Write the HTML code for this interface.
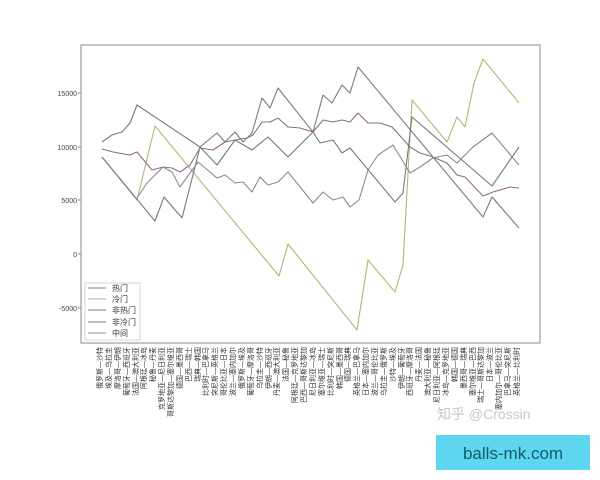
<!DOCTYPE html>
<html><head><meta charset="utf-8"><style>
body{margin:0;width:600px;height:480px;background:#fff;overflow:hidden;position:relative;font-family:"Liberation Sans","Noto Sans CJK SC",sans-serif;}
.xl{position:absolute;top:347px;font-size:7px;line-height:7px;writing-mode:vertical-rl;text-orientation:sideways;transform:rotate(180deg);color:#333;white-space:nowrap;}
</style></head><body>
<svg width="600" height="480" style="position:absolute;left:0;top:0">
<rect x="81" y="45" width="459" height="298" fill="none" stroke="#888" stroke-width="1"/>
<g font-size="7" fill="#444" text-anchor="end" font-family="Liberation Sans,sans-serif">
<text x="77" y="96">15000</text><text x="77" y="150">10000</text><text x="77" y="203">5000</text><text x="77" y="257">0</text><text x="77" y="311">-5000</text>
</g>
<g stroke="#888" stroke-width="1"><line x1="78" y1="93" x2="81" y2="93"/><line x1="78" y1="147" x2="81" y2="147"/><line x1="78" y1="200" x2="81" y2="200"/><line x1="78" y1="254" x2="81" y2="254"/><line x1="78" y1="308" x2="81" y2="308"/></g>
<g fill="none" stroke-width="1.1" stroke-linejoin="round">
<polyline stroke="#b8b478" points="102,157 137,200 155,126 279,276 288,244 357,330 368,260 395,292 403,265 412,100 447,142 457,117 465,127 474,83 483,59 519,103"/>
<polyline stroke="#7a7a84" points="102,142 112,135 122,132 130,123 137,105 200,147 217,133 225,142 235,132 243,142 252,133 262,98 270,108 278,88 313,132 323,95 332,103 342,85 350,93 358,67 483,217 492,197 519,228"/>
<polyline stroke="#6f7f78" points="102,157 155,221 164,197 182,218 200,147 217,165 235,140 252,150 268,137 288,157 313,132 320,143 333,140 342,153 350,148 395,202 403,193 412,117 492,186 519,147"/>
<polyline stroke="#8c6f80" points="102,149 113,152 130,155 137,152 152,170 163,167 172,168 180,172 190,165 200,148 213,150 225,142 235,140 247,138 253,135 262,122 270,122 278,118 288,127 300,128 313,132 323,120 333,122 342,120 350,122 358,113 368,123 380,123 392,127 410,147 420,153 433,157 447,163 457,175 465,177 483,196 493,192 510,187 519,188"/>
<polyline stroke="#8a8a96" points="137,198 147,183 163,167 172,172 180,187 198,162 217,178 225,175 235,183 243,182 252,192 260,177 268,185 278,182 288,172 313,203 323,192 333,200 343,197 350,207 359,200 368,170 378,155 393,145 410,173 420,167 433,158 447,155 457,163 465,155 473,147 492,133 519,165"/>
</g>
<rect x="85" y="283" width="55" height="57" fill="#fff" stroke="#ccc" stroke-width="0.8"/>
<g stroke-width="1.1">
<line x1="88" y1="288" x2="106" y2="288" stroke="#7a7a84"/>
<line x1="88" y1="299" x2="106" y2="299" stroke="#b8b478"/>
<line x1="88" y1="310" x2="106" y2="310" stroke="#6f7f78"/>
<line x1="88" y1="322" x2="106" y2="322" stroke="#8c6f80"/>
<line x1="88" y1="333" x2="106" y2="333" stroke="#8a8a96"/>
</g>
<g font-size="8" fill="#333" font-family="Liberation Sans,Noto Sans CJK SC,sans-serif">
<text x="112" y="291">热门</text><text x="112" y="302">冷门</text><text x="112" y="313">非热门</text><text x="112" y="325">非冷门</text><text x="112" y="336">中间</text>
</g>
<text x="437" y="419" font-size="14" fill="#c8c8c8" font-family="Liberation Sans,Noto Sans CJK SC,sans-serif">知乎 @Crossin</text>
<rect x="436" y="435" width="154" height="35" fill="#5fd6f0"/>
<text x="513" y="459" font-size="17" fill="#0d5f66" text-anchor="middle" font-family="Liberation Sans,sans-serif">balls-mk.com</text>
</svg>
<div id="labels"></div>
<script>
var m="俄罗斯—沙特,埃及—乌拉圭,摩洛哥—伊朗,葡萄牙—西班牙,法国—澳大利亚,阿根廷—冰岛,秘鲁—丹麦,克罗地亚—尼日利亚,哥斯达黎加—塞尔维亚,德国—墨西哥,巴西—瑞士,瑞典—韩国,比利时—巴拿马,突尼斯—英格兰,哥伦比亚—日本,波兰—塞内加尔,俄罗斯—埃及,葡萄牙—摩洛哥,乌拉圭—沙特,伊朗—西班牙,丹麦—澳大利亚,法国—秘鲁,阿根廷—克罗地亚,巴西—哥斯达黎加,尼日利亚—冰岛,塞尔维亚—瑞士,比利时—突尼斯,韩国—墨西哥,德国—瑞典,英格兰—巴拿马,日本—塞内加尔,波兰—哥伦比亚,乌拉圭—俄罗斯,沙特—埃及,伊朗—葡萄牙,西班牙—摩洛哥,丹麦—法国,澳大利亚—秘鲁,尼日利亚—阿根廷,冰岛—克罗地亚,韩国—德国,墨西哥—瑞典,塞尔维亚—巴西,瑞士—哥斯达黎加,日本—波兰,塞内加尔—哥伦比亚,巴拿马—突尼斯,英格兰—比利时".split(",");
var h="";for(var i=0;i<m.length;i++){h+='<div class="xl" style="left:'+(97+i*8.87).toFixed(1)+'px">'+m[i]+'</div>';}
document.getElementById("labels").innerHTML=h;
</script>
</body></html>
